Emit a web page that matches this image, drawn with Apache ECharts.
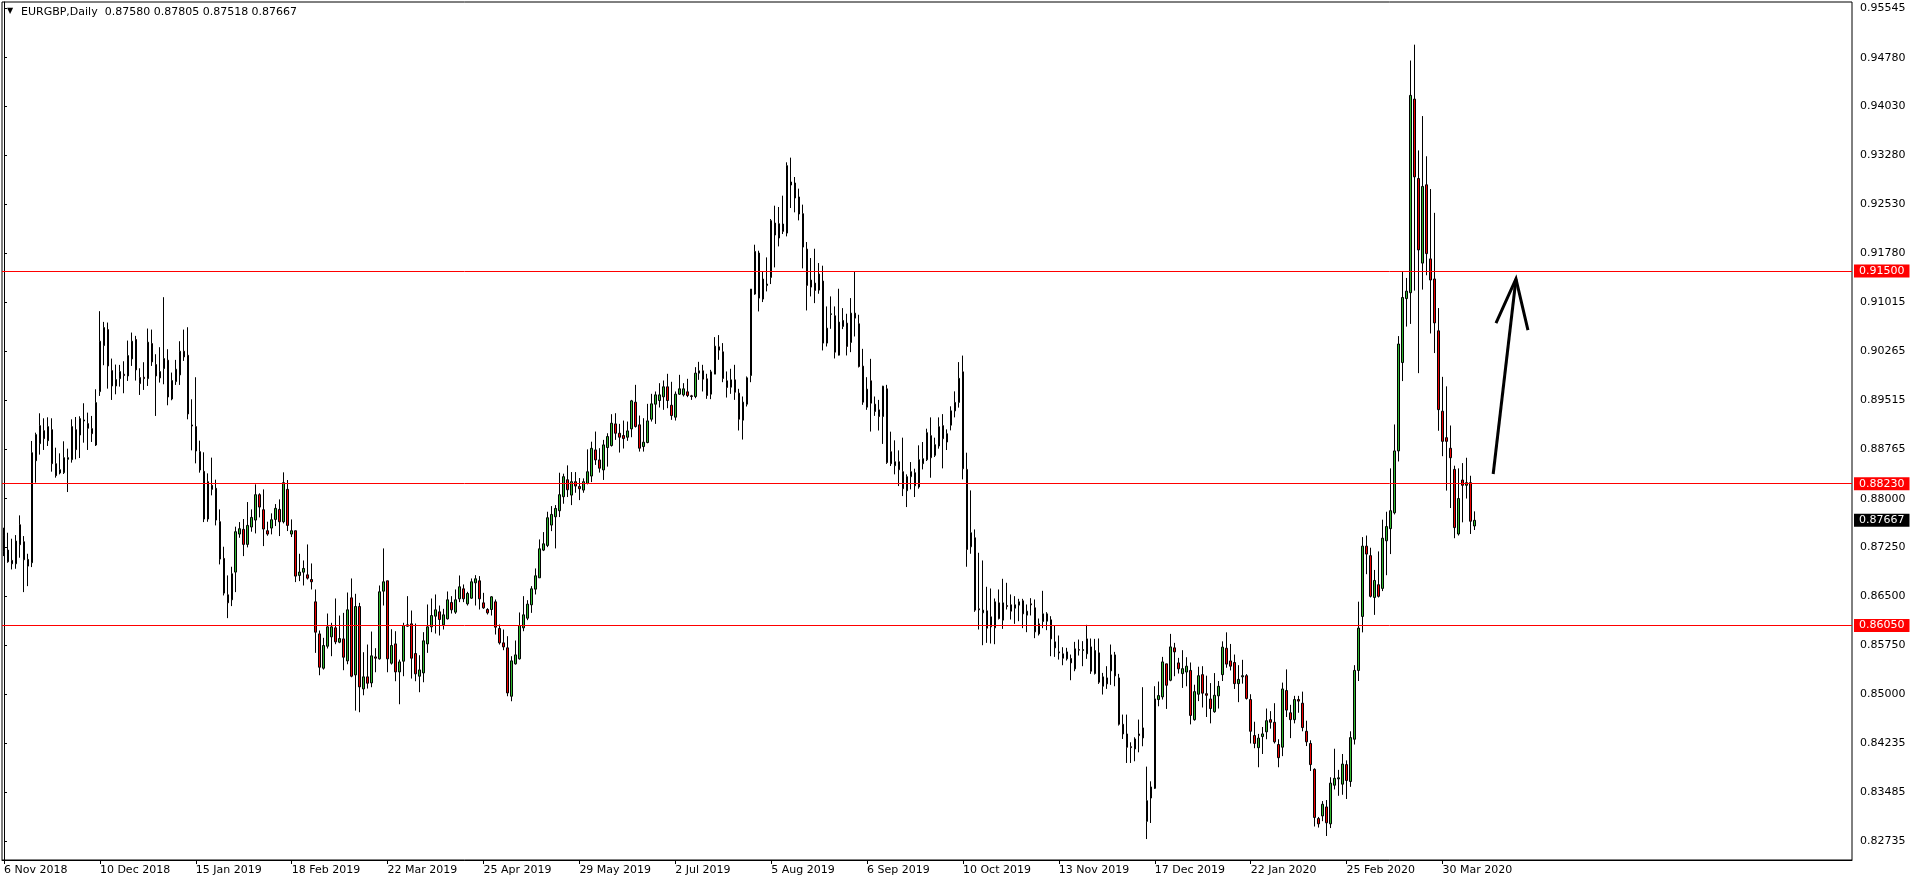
<!DOCTYPE html>
<html><head><meta charset="utf-8">
<script src="https://cdn.jsdelivr.net/npm/echarts@6/dist/echarts.min.js"></script>
<style>html,body{margin:0;padding:0;background:#fff}#c{width:1916px;height:884px}</style>
</head><body><div id="c"></div><script>
const symbolText = 'EURGBP,Daily';
const lastOHLC = ['0.87580', '0.87805', '0.87518', '0.87667'];

const open = [
0.87440,0.87210,0.87051,0.86999,0.87599,0.87338,0.86963,0.87015,0.88584,0.88846,
0.89046,0.88892,0.89061,0.88538,0.88395,0.88400,0.88605,0.88600,0.89061,0.88979,
0.89210,0.89154,0.89077,0.88825,0.89646,0.90354,0.90600,0.89969,0.89733,0.89846,
0.89913,0.89887,0.90149,0.90447,0.89862,0.89867,0.89846,0.90385,0.90062,0.89857,
0.90000,0.90129,0.89533,0.89800,0.89903,0.90267,0.90205,0.89133,0.89108,0.88723,
0.88420,0.87687,0.88205,0.88159,0.87646,0.87081,0.86522,0.86445,0.86871,0.87456,
0.87528,0.87297,0.87564,0.87671,0.88061,0.87830,0.87507,0.87548,0.87681,0.87835,
0.87645,0.88143,0.87456,0.87507,0.86820,0.86870,0.86829,0.86757,0.86414,0.85921,
0.85393,0.85731,0.85875,0.86014,0.85793,0.85844,0.85506,0.86475,0.85290,0.86342,
0.85075,0.85260,0.85167,0.85567,0.85537,0.86578,0.86737,0.85470,0.85767,0.85336,
0.85501,0.86039,0.86075,0.85619,0.85270,0.85321,0.85767,0.86029,0.86193,0.86260,
0.86060,0.86152,0.86404,0.86255,0.86460,0.86614,0.86383,0.86470,0.86706,0.86737,
0.86398,0.86296,0.86296,0.86414,0.86003,0.85783,0.85706,0.84962,0.85460,0.85537,
0.86014,0.86162,0.86368,0.86609,0.86783,0.87209,0.87281,0.87594,0.87722,0.87814,
0.88030,0.88291,0.88055,0.88261,0.88189,0.88132,0.88235,0.88348,0.88750,0.88596,
0.88442,0.88786,0.88817,0.89150,0.89006,0.88971,0.88945,0.89073,0.89484,0.89135,
0.88801,0.88863,0.89222,0.89453,0.89509,0.89566,0.89720,0.89437,0.89253,0.89607,
0.89596,0.89643,0.89581,0.89571,0.89930,0.89966,0.89843,0.89607,0.89915,0.90335,
0.90258,0.89812,0.89714,0.89827,0.89622,0.89207,0.89453,0.89894,0.91146,0.91777,
0.91069,0.91279,0.91402,0.92238,0.92008,0.92223,0.92084,0.92823,0.92854,0.92639,
0.92382,0.91838,0.91253,0.91315,0.91207,0.91346,0.90392,0.90833,0.90812,0.90207,
0.90648,0.90699,0.90402,0.90853,0.90689,0.90038,0.89407,0.89812,0.89453,0.89366,
0.89263,0.89689,0.88722,0.88507,0.88568,0.88415,0.88122,0.88338,0.88399,0.88179,
0.88538,0.88599,0.88969,0.88666,0.88810,0.89123,0.88871,0.89130,0.89350,0.89480,
0.89950,0.88450,0.87260,0.87399,0.86306,0.86245,0.86275,0.86183,0.86014,0.86398,
0.86132,0.86357,0.86368,0.86316,0.86363,0.86429,0.86209,0.86383,0.86322,0.85921,
0.86111,0.86116,0.86137,0.85798,0.85644,0.85614,0.85537,0.85542,0.85383,0.85680,
0.85665,0.85614,0.85721,0.85311,0.85629,0.85116,0.85244,0.85352,0.85598,0.85244,
0.84531,0.84382,0.84187,0.84152,0.84382,0.84321,0.83038,0.83397,0.83546,0.84911,
0.84952,0.85460,0.85208,0.85706,0.85475,0.85310,0.85334,0.85359,0.84602,0.84993,
0.85294,0.85001,0.84920,0.84724,0.84968,0.85294,0.85700,0.85505,0.85481,0.85156,
0.85261,0.85278,0.84911,0.84358,0.84171,0.84342,0.84415,0.84602,0.84562,0.84220,
0.84179,0.85050,0.84708,0.84602,0.84911,0.84855,0.84423,0.84236,0.83838,0.83081,
0.83122,0.83260,0.83000,0.83594,0.83691,0.83610,0.83911,0.83651,0.84301,0.85359,
0.86189,0.87270,0.87124,0.86481,0.86677,0.86620,0.87352,0.87539,0.87783,0.88734,
0.90093,0.91077,0.91167,0.94144,0.92923,0.91622,0.92826,0.91687,0.91378,0.90581,
0.89345,0.88938,0.88775,0.88450,0.87457,0.88287,0.88206,0.88246,0.87580
];
const high = [
0.87553,0.87476,0.87384,0.87440,0.87743,0.87425,0.87153,0.88887,0.89015,0.89313,
0.89236,0.89251,0.89236,0.88784,0.88697,0.88882,0.88769,0.89220,0.89256,0.89267,
0.89467,0.89323,0.89272,0.89682,0.90883,0.90718,0.90708,0.90154,0.90062,0.90057,
0.90113,0.90431,0.90554,0.90503,0.90005,0.90098,0.90616,0.90600,0.90221,0.90329,
0.91098,0.90298,0.89939,0.90134,0.90421,0.90600,0.90636,0.89528,0.89867,0.88892,
0.88713,0.88389,0.88631,0.88292,0.87835,0.87261,0.86820,0.86953,0.87569,0.87640,
0.87687,0.87948,0.87835,0.88220,0.88082,0.88143,0.87646,0.87774,0.87917,0.87989,
0.88405,0.88287,0.87681,0.87507,0.87153,0.87050,0.87296,0.87004,0.86604,0.85973,
0.85860,0.86234,0.86091,0.86465,0.86203,0.86244,0.86557,0.86773,0.86537,0.86398,
0.85639,0.85757,0.85957,0.85701,0.86665,0.87235,0.86737,0.85993,0.85962,0.85526,
0.86091,0.86501,0.86280,0.86080,0.85593,0.85947,0.86373,0.86465,0.86527,0.86357,
0.86306,0.86573,0.86501,0.86604,0.86819,0.86681,0.86568,0.86773,0.86824,0.86809,
0.86552,0.86316,0.86501,0.86450,0.86065,0.85988,0.85885,0.85578,0.85819,0.86250,
0.86501,0.86439,0.86655,0.86927,0.87373,0.87486,0.87799,0.87886,0.87901,0.88399,
0.88384,0.88512,0.88409,0.88409,0.88317,0.88312,0.88758,0.88876,0.89032,0.88776,
0.88904,0.89006,0.89299,0.89314,0.89150,0.89201,0.89186,0.89519,0.89750,0.89278,
0.89237,0.89458,0.89612,0.89648,0.89776,0.89817,0.89920,0.89797,0.89648,0.89904,
0.89776,0.89843,0.89596,0.90022,0.90104,0.90058,0.89920,0.89981,0.90484,0.90515,
0.90392,0.89956,0.89997,0.90058,0.89689,0.89571,0.89879,0.91223,0.91905,0.91813,
0.91495,0.91710,0.92300,0.92505,0.92485,0.92659,0.93172,0.93244,0.92946,0.92767,
0.92521,0.91946,0.91700,0.91843,0.91623,0.91582,0.90956,0.91110,0.90956,0.91228,
0.90930,0.90843,0.91084,0.91495,0.90828,0.90304,0.89868,0.90150,0.89571,0.89519,
0.89735,0.89750,0.89030,0.88897,0.88743,0.88938,0.88374,0.88563,0.88461,0.88820,
0.88871,0.89076,0.89250,0.88938,0.89250,0.89300,0.89066,0.89420,0.89650,0.90100,
0.90200,0.88707,0.88127,0.87527,0.87168,0.87050,0.86645,0.86619,0.86465,0.86604,
0.86768,0.86706,0.86527,0.86501,0.86460,0.86460,0.86373,0.86470,0.86450,0.86157,
0.86583,0.86255,0.86193,0.86055,0.85896,0.85716,0.85706,0.85603,0.85798,0.85834,
0.85809,0.86060,0.85850,0.85844,0.85850,0.85321,0.85424,0.85757,0.85644,0.85306,
0.84680,0.84680,0.84254,0.84331,0.84603,0.85101,0.83880,0.83654,0.85116,0.85188,
0.85567,0.85460,0.85921,0.85783,0.85552,0.85670,0.85562,0.85481,0.85139,0.85416,
0.85424,0.85278,0.85164,0.85318,0.85196,0.85806,0.85945,0.85766,0.85603,0.85440,
0.85522,0.85302,0.84993,0.84570,0.84383,0.84489,0.84773,0.84733,0.84855,0.84301,
0.85172,0.85375,0.84830,0.84968,0.84968,0.85033,0.84586,0.84285,0.83854,0.83106,
0.83350,0.83366,0.83716,0.84155,0.83830,0.84074,0.83976,0.84423,0.85440,0.86416,
0.87409,0.87433,0.87246,0.86904,0.87189,0.87677,0.87799,0.88466,0.89141,0.90500,
0.91500,0.91394,0.94737,0.94981,0.93355,0.93883,0.93265,0.92761,0.92395,0.90931,
0.89873,0.89727,0.89125,0.88507,0.88466,0.88547,0.88629,0.88352,0.87805
];
const low = [
0.87117,0.87015,0.86912,0.86922,0.87092,0.86563,0.86655,0.86948,0.88246,0.88677,
0.88749,0.88810,0.88415,0.88323,0.88374,0.88379,0.88102,0.88554,0.88605,0.88625,
0.88861,0.88749,0.88872,0.88810,0.89580,0.90052,0.89692,0.89518,0.89605,0.89723,
0.89621,0.89810,0.90041,0.89816,0.89595,0.89672,0.89733,0.90041,0.89272,0.89785,
0.89759,0.89436,0.89513,0.89749,0.89749,0.90118,0.89220,0.88743,0.88543,0.88400,
0.87640,0.87645,0.88051,0.87589,0.86989,0.86512,0.86163,0.86348,0.86563,0.87399,
0.87117,0.87251,0.87492,0.87466,0.87712,0.87271,0.87430,0.87451,0.87579,0.87425,
0.87620,0.87502,0.87410,0.86717,0.86732,0.86665,0.86757,0.86604,0.85629,0.85285,
0.85372,0.85696,0.85578,0.85762,0.85778,0.85362,0.85454,0.85254,0.84741,0.84716,
0.84977,0.85080,0.85101,0.85331,0.85526,0.86357,0.85331,0.85449,0.85193,0.84839,
0.85270,0.86029,0.85234,0.85193,0.85024,0.85177,0.85629,0.85947,0.85926,0.85896,
0.85988,0.86142,0.86234,0.86229,0.86409,0.86409,0.86357,0.86460,0.86357,0.86296,
0.86306,0.86219,0.86203,0.85911,0.85757,0.85670,0.84962,0.84885,0.85449,0.85526,
0.85962,0.86132,0.86244,0.86527,0.86783,0.87194,0.87255,0.87501,0.87235,0.87717,
0.87922,0.88025,0.87901,0.88091,0.87978,0.88091,0.88220,0.88255,0.88519,0.88401,
0.88288,0.88493,0.88801,0.88904,0.88709,0.88771,0.88889,0.88945,0.89094,0.88724,
0.88724,0.88852,0.89186,0.89150,0.89402,0.89366,0.89391,0.89212,0.89201,0.89596,
0.89571,0.89561,0.89519,0.89545,0.89827,0.89648,0.89535,0.89530,0.89915,0.90135,
0.89791,0.89555,0.89612,0.89519,0.89048,0.88909,0.89417,0.89791,0.91135,0.90879,
0.91023,0.91187,0.91300,0.91556,0.91879,0.92069,0.92033,0.92469,0.92403,0.92279,
0.91541,0.90894,0.91110,0.91007,0.91151,0.90279,0.90340,0.90612,0.90156,0.90202,
0.90607,0.90202,0.90253,0.90494,0.90017,0.89443,0.89366,0.89032,0.89273,0.89048,
0.88842,0.88535,0.88502,0.88374,0.88194,0.88040,0.87871,0.88143,0.88025,0.88153,
0.88450,0.88579,0.88322,0.88640,0.88769,0.88466,0.88748,0.89050,0.89250,0.89400,
0.88297,0.86953,0.87153,0.86260,0.85988,0.85747,0.85783,0.85773,0.85762,0.86142,
0.85998,0.86296,0.86142,0.86075,0.86116,0.86009,0.85947,0.86204,0.85855,0.85896,
0.86009,0.85978,0.85578,0.85567,0.85526,0.85439,0.85511,0.85208,0.85347,0.85588,
0.85424,0.85537,0.85306,0.85296,0.85152,0.84988,0.85075,0.85137,0.85116,0.84511,
0.84305,0.83936,0.83936,0.83962,0.84100,0.84193,0.82766,0.83013,0.83536,0.84808,
0.84911,0.84767,0.85193,0.85270,0.85311,0.85090,0.85115,0.84529,0.84586,0.84887,
0.84789,0.84643,0.84545,0.84708,0.84773,0.85196,0.85400,0.85359,0.85074,0.84871,
0.85156,0.84911,0.84236,0.84163,0.83870,0.84074,0.84301,0.84464,0.84236,0.83870,
0.84041,0.84643,0.84318,0.84545,0.84708,0.84423,0.84196,0.83813,0.82959,0.82943,
0.83041,0.82813,0.82935,0.83529,0.83431,0.83447,0.83382,0.83569,0.84220,0.85196,
0.85944,0.86839,0.86481,0.86213,0.86481,0.86579,0.86823,0.87148,0.87758,0.88572,
0.89808,0.90646,0.90687,0.91199,0.89930,0.91215,0.91435,0.90540,0.90239,0.89044,
0.88653,0.88124,0.87856,0.87392,0.87433,0.87636,0.88002,0.87457,0.87518
];
const close = [
0.87194,0.87030,0.86999,0.87348,0.87292,0.87061,0.87066,0.88707,0.88985,0.89123,
0.88923,0.89108,0.88538,0.88354,0.88446,0.88631,0.88631,0.89108,0.88754,0.89231,
0.89195,0.89082,0.89000,0.89477,0.90421,0.90631,0.90041,0.89733,0.89831,0.89954,
0.89893,0.90200,0.90421,0.89980,0.89769,0.89846,0.90406,0.90103,0.89887,0.89954,
0.90154,0.89564,0.89816,0.89990,0.90267,0.90180,0.89303,0.89118,0.88733,0.88441,
0.87687,0.88261,0.88143,0.87671,0.87071,0.86548,0.86399,0.86845,0.87492,0.87538,
0.87297,0.87589,0.87712,0.88061,0.87871,0.87533,0.87456,0.87676,0.87851,0.87645,
0.88246,0.87589,0.87507,0.86809,0.86871,0.86927,0.86778,0.86722,0.85947,0.85408,
0.85742,0.86029,0.86029,0.85798,0.85849,0.85562,0.86291,0.85270,0.86342,0.85106,
0.85260,0.85162,0.85583,0.85547,0.86568,0.86722,0.85537,0.85742,0.85336,0.85490,
0.86050,0.86060,0.85547,0.85306,0.85367,0.85814,0.86029,0.86203,0.86291,0.86142,
0.86214,0.86445,0.86291,0.86445,0.86645,0.86460,0.86542,0.86722,0.86768,0.86460,
0.86321,0.86244,0.86491,0.86024,0.85783,0.85721,0.85013,0.85506,0.85598,0.86050,
0.86214,0.86378,0.86614,0.86814,0.87229,0.87306,0.87707,0.87758,0.87850,0.88061,
0.88338,0.88137,0.88261,0.88194,0.88153,0.88261,0.88414,0.88774,0.88596,0.88468,
0.88827,0.88955,0.89160,0.89006,0.88945,0.88924,0.89042,0.89504,0.89109,0.88776,
0.88868,0.89196,0.89458,0.89596,0.89596,0.89720,0.89509,0.89278,0.89607,0.89689,
0.89689,0.89586,0.89571,0.89930,0.89966,0.89838,0.89586,0.89950,0.90345,0.90284,
0.89848,0.89709,0.89827,0.89637,0.89222,0.89484,0.89858,0.91223,0.91802,0.91084,
0.91377,0.91300,0.92274,0.92054,0.92228,0.92110,0.93121,0.92869,0.92623,0.92377,
0.91869,0.91279,0.91361,0.91202,0.91454,0.90392,0.90622,0.90843,0.90253,0.90715,
0.90740,0.90340,0.90853,0.90776,0.90032,0.89484,0.89684,0.89468,0.89340,0.89263,
0.89730,0.88555,0.88538,0.88568,0.88445,0.88153,0.88338,0.88415,0.88199,0.88599,
0.88615,0.89015,0.88630,0.88830,0.89107,0.88922,0.88999,0.89350,0.89480,0.89850,
0.88460,0.87219,0.87476,0.86286,0.86291,0.86286,0.86009,0.86029,0.86414,0.86157,
0.86398,0.86342,0.86270,0.86368,0.86414,0.86229,0.86270,0.86368,0.85952,0.86075,
0.86229,0.86229,0.85844,0.85706,0.85629,0.85547,0.85644,0.85475,0.85691,0.85670,
0.85680,0.85844,0.85347,0.85665,0.85178,0.85260,0.85152,0.85598,0.85275,0.84531,
0.84382,0.84177,0.84172,0.84305,0.84357,0.84475,0.83356,0.83567,0.84921,0.84972,
0.85490,0.85131,0.85721,0.85644,0.85383,0.85386,0.85424,0.84667,0.85033,0.85278,
0.85009,0.84977,0.84773,0.84977,0.85115,0.85717,0.85456,0.85424,0.85156,0.85221,
0.85278,0.84928,0.84423,0.84236,0.84318,0.84383,0.84586,0.84562,0.84261,0.84017,
0.85074,0.84749,0.84602,0.84911,0.84887,0.84480,0.84261,0.83911,0.83098,0.83000,
0.83301,0.83016,0.83626,0.83700,0.83708,0.83919,0.83667,0.84326,0.85359,0.86010,
0.87270,0.87148,0.86498,0.86742,0.86498,0.87392,0.87571,0.87815,0.88734,0.90378,
0.91093,0.91191,0.94201,0.92948,0.91825,0.92801,0.91768,0.91362,0.90703,0.89369,
0.88881,0.88881,0.88629,0.87555,0.88002,0.88206,0.88246,0.87653,0.87667
];

const levels = [0.91500, 0.88230, 0.86050];
const lastPrice = 0.87667;
const yTicks = [0.82735, 0.83485, 0.84235, 0.85000, 0.85750, 0.86500, 0.87250, 0.88000, 0.88765,
  0.89515, 0.90265, 0.91015, 0.91780, 0.92530, 0.93280, 0.94030, 0.94780, 0.95545];
const xTickLabels = ['6 Nov 2018', '10 Dec 2018', '15 Jan 2019', '18 Feb 2019', '22 Mar 2019',
  '25 Apr 2019', '29 May 2019', '2 Jul 2019', '5 Aug 2019', '6 Sep 2019', '10 Oct 2019',
  '13 Nov 2019', '17 Dec 2019', '22 Jan 2020', '25 Feb 2020', '30 Mar 2020'];
const xTickEvery = 24;
const firstDay = '2018-11-06';
const holidays = ['2018-12-25', '2019-01-01', '2019-12-25', '2020-01-01'];
const slotCount = 463;
// hand-drawn arrow (bar index, price)
const arrowShaft = [[372.7, 0.88379], [378.4, 0.91378]];
const arrowHead = [[373.4, 0.90701], [378.4, 0.91378], [381.4, 0.90593]];

const MON = ['Jan','Feb','Mar','Apr','May','Jun','Jul','Aug','Sep','Oct','Nov','Dec'];
function tradingDays(start, count, skip) {
  const out = [];
  const d = new Date(start + 'T00:00:00Z');
  while (out.length < count) {
    const wd = d.getUTCDay();
    const iso = d.toISOString().slice(0, 10);
    if (wd !== 0 && wd !== 6 && skip.indexOf(iso) < 0) {
      out.push(d.getUTCDate() + ' ' + MON[d.getUTCMonth()] + ' ' + d.getUTCFullYear());
    }
    d.setUTCDate(d.getUTCDate() + 1);
  }
  return out;
}
const categories = tradingDays(firstDay, slotCount, holidays);
const nBars = open.length;
const candles = open.map((o, i) => [o, close[i], low[i], high[i]]);

const FONT = '"DejaVu Sans", Verdana, sans-serif';
const showTick = (idx) => idx % xTickEvery === 0 && idx < nBars;
const priceLabel = (bg) => ({show: true, position: 'end', distance: 2, color: '#fff', backgroundColor: bg, opacity: 1,
  padding: [1, 5, 1, 5], fontSize: 11, fontFamily: FONT, formatter: (p) => Number(p.value).toFixed(5)});

const chart = echarts.init(document.getElementById('c'), null, {renderer: 'canvas'});
chart.setOption({
  animation: false,
  backgroundColor: '#ffffff',
  graphic: [
    {type: 'text', left: 7, top: 7, style: {text: '▼', font: '8px ' + FONT, fill: '#000'}},
    {type: 'text', left: 21, top: 7, style: {text: symbolText + '  ' + lastOHLC.join(' '), font: '11px ' + FONT, fill: '#000'}}
  ],
  grid: {left: 2, top: 2, width: 1850, height: 858, show: true, borderColor: '#000', borderWidth: 1, backgroundColor: 'transparent'},
  xAxis: [{
    type: 'category', data: categories, boundaryGap: true,
    axisLine: {show: true, lineStyle: {color: '#000', width: 1}},
    axisTick: {show: true, alignWithLabel: true, interval: (i) => showTick(i), length: 4, lineStyle: {color: '#000'}},
    axisLabel: {interval: (i) => showTick(i), formatter: (v, i) => xTickLabels[Math.round(i / xTickEvery)],
      align: 'left', margin: 5, color: '#000', fontSize: 11, fontFamily: FONT},
    splitLine: {show: false}
  }, {
    type: 'value', min: -0.5, max: slotCount - 0.5, show: false
  }],
  yAxis: {
    type: 'value', position: 'right', min: 0.82444, max: 0.95637, scale: true,
    axisLine: {show: true, lineStyle: {color: '#000', width: 1}},
    axisTick: {show: true, customValues: yTicks, length: 3, lineStyle: {color: '#000'}},
    axisLabel: {customValues: yTicks, formatter: (v) => v.toFixed(5), margin: 8, color: '#000', fontSize: 11, fontFamily: FONT, hideOverlap: false},
    splitLine: {show: false}
  },
  series: [{
    type: 'candlestick', xAxisIndex: 0, yAxisIndex: 0, data: candles, barWidth: 2,
    itemStyle: {color: '#2fb82f', color0: '#ee0000', borderColor: '#000', borderColor0: '#000', borderColorDoji: '#000', borderWidth: 1},
    emphasis: {disabled: true},
    markLine: {
      silent: true, symbol: 'none', animation: false, precision: 5,
      data: levels.map(v => ({yAxis: v, lineStyle: {color: '#ff0000', width: 1, type: 'solid'}, label: priceLabel('#ff0000')}))
        .concat([{yAxis: lastPrice, lineStyle: {color: 'rgba(0,0,0,0)', width: 1, type: 'solid'}, label: priceLabel('#000000')}])
    }
  }, {
    type: 'line', xAxisIndex: 1, yAxisIndex: 0, data: arrowShaft, symbol: 'none', silent: true,
    lineStyle: {color: '#000', width: 3}, z: 5
  }, {
    type: 'line', xAxisIndex: 1, yAxisIndex: 0, data: arrowHead, symbol: 'none', silent: true,
    lineStyle: {color: '#000', width: 3, join: 'miter'}, z: 5
  }]
});
</script></body></html>
